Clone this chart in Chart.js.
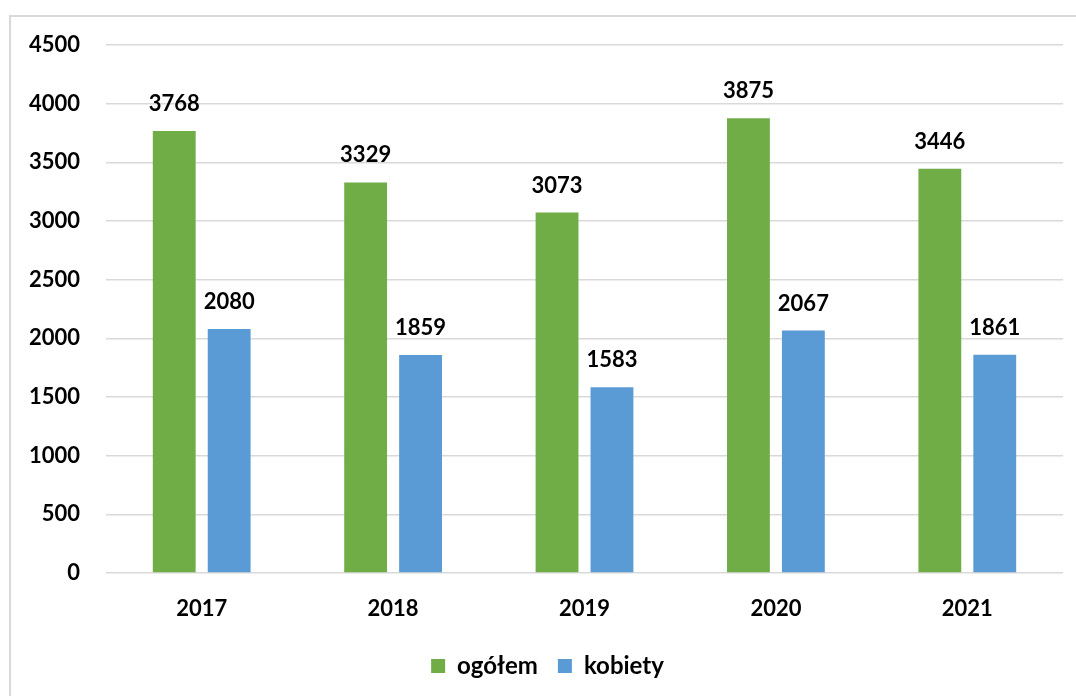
<!DOCTYPE html>
<html>
<head>
<meta charset="utf-8">
<script src="https://cdn.jsdelivr.net/npm/chart.js@4"></script>
<style>
  body { margin: 0; background: #fff; overflow: hidden; }
  #frame {
    position: absolute; left: 9px; top: 15px;
    width: 1100px; height: 720px;
    border: 2px solid #d9d9d9;
  }
  #wrap { position: absolute; left: 0; top: 0; width: 1076px; height: 696px; }
</style>
</head>
<body>
<div id="frame"></div>
<div id="wrap"><canvas id="chart" width="1076" height="696"></canvas></div>
<script>
// chart data
const years = ['2017', '2018', '2019', '2020', '2021'];
const ogolem = [3768, 3329, 3073, 3875, 3446];
const kobiety = [2080, 1859, 1583, 2067, 1861];
const yTicks = [0, 500, 1000, 1500, 2000, 2500, 3000, 3500, 4000, 4500];

const FONT = 'Lato, "Open Sans", sans-serif';
const WEIGHT = 'bold';

// draws the value above each bar
const valueLabels = {
  id: 'valueLabels',
  afterDatasetsDraw(chart) {
    const ctx = chart.ctx;
    ctx.save();
    ctx.font = WEIGHT + ' 22px ' + FONT;
    ctx.fillStyle = '#000';
    ctx.textAlign = 'center';
    ctx.textBaseline = 'middle';
    chart.data.datasets.forEach((ds, i) => {
      chart.getDatasetMeta(i).data.forEach((bar, j) => {
        ctx.fillText(String(ds.data[j]), bar.x, bar.y - 27);
      });
    });
    ctx.restore();
  }
};

// legend in the original sits a bit right of the canvas centre
const legendShift = {
  id: 'legendShift',
  afterUpdate(chart) {
    if (chart.legend) {
      chart.legend.left += 16;
      chart.legend.right += 16;
    }
  }
};

new Chart(document.getElementById('chart'), {
  type: 'bar',
  data: {
    labels: years,
    datasets: [
      { label: 'ogółem', data: ogolem, backgroundColor: '#70AD47',
        categoryPercentage: 0.574, barPercentage: 0.78 },
      { label: 'kobiety', data: kobiety, backgroundColor: '#5B9BD5',
        categoryPercentage: 0.574, barPercentage: 0.78 }
    ]
  },
  options: {
    responsive: false,
    animation: false,
    layout: { padding: { top: 45, right: 13, left: 0, bottom: 8 } },
    scales: {
      x: {
        grid: { display: false },
        border: { display: false },
        ticks: { color: '#000', font: { family: FONT, size: 22, weight: WEIGHT }, padding: 15 },
        afterFit: (scale) => { scale.height = 61; }
      },
      y: {
        min: 0,
        max: 4500,
        afterBuildTicks: (scale) => { scale.ticks = yTicks.map(v => ({ value: v })); },
        grid: { color: '#d9d9d9', lineWidth: 1.5, drawTicks: false },
        border: { display: false },
        ticks: {
          color: '#000',
          font: { family: FONT, size: 22, weight: WEIGHT },
          padding: 26,
          callback: (v) => String(v)
        },
        afterFit: (scale) => { scale.width = 106; }
      }
    },
    plugins: {
      legend: {
        position: 'bottom',
        labels: {
          color: '#000',
          font: { family: FONT, size: 24, weight: WEIGHT },
          boxWidth: 14,
          boxHeight: 14,
          padding: 20
        }
      },
      tooltip: { enabled: false }
    }
  },
  plugins: [valueLabels, legendShift]
});
</script>
</body>
</html>
